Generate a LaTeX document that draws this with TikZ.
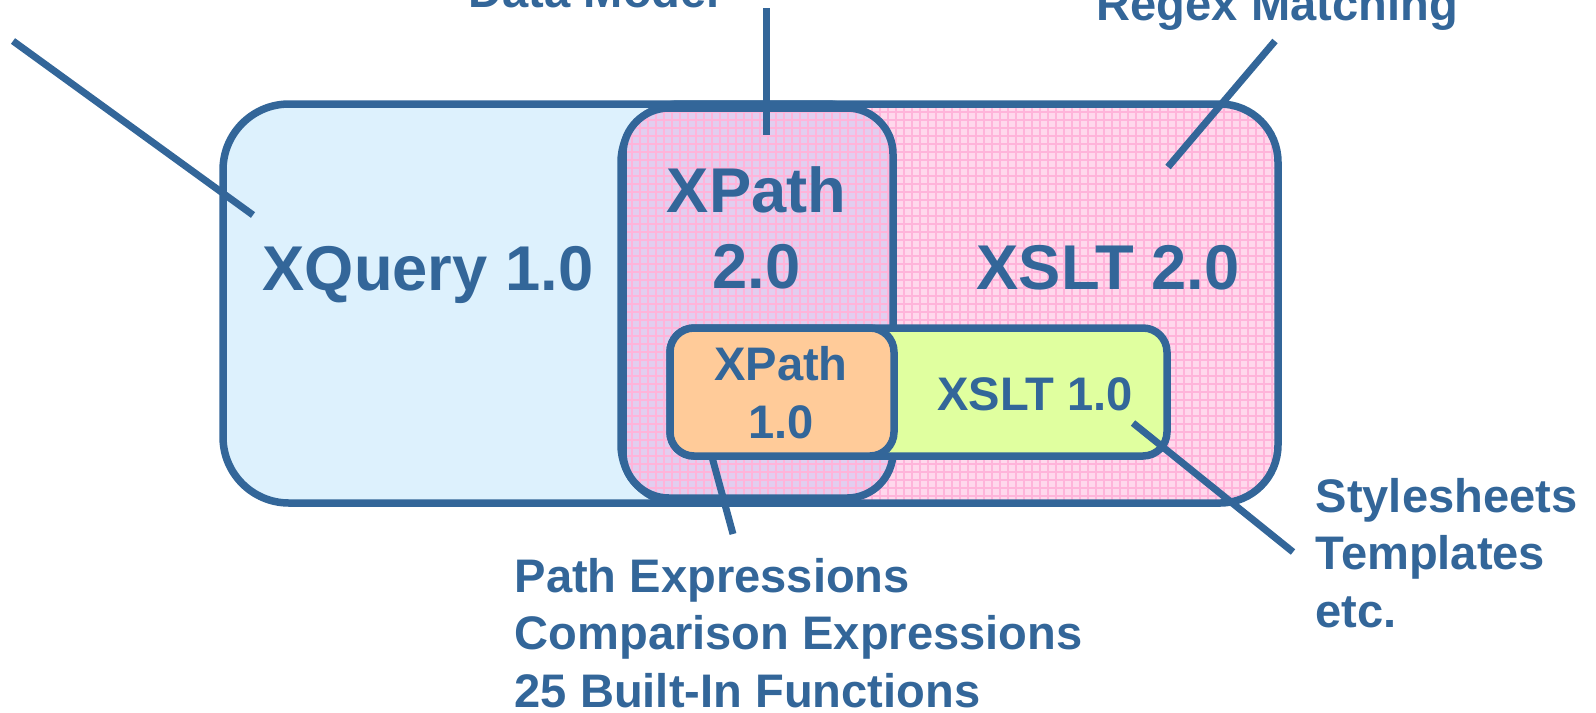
\documentclass[tikz,border=0pt]{standalone}
\usepackage{fontspec}
\setmainfont{Liberation Sans}
\usetikzlibrary{patterns.meta}
\definecolor{edge}{HTML}{336699}
\definecolor{qfill}{HTML}{DDF1FD}
\definecolor{sfill}{HTML}{FFD8EC}
\definecolor{sgrid}{HTML}{FFB4DA}
\definecolor{pfill}{HTML}{E2CEEF}
\definecolor{ofill}{HTML}{FFCB99}
\definecolor{gfill}{HTML}{E0FF9F}
\newcommand{\Panel}[4]{
  \draw[rounded corners=#3,line width=0.75mm,draw=edge,#4] #1 rectangle #2;
}
\tikzset{
  big/.style={font=\bfseries\fontsize{18}{21.6}\selectfont,text=edge,inner sep=0pt},
  note/.style={font=\bfseries\fontsize{13.4}{16.3}\selectfont,text=edge,inner sep=0pt},
  grid fill/.style={preaction={fill=#1},pattern={Hatch[distance=0.8mm,angle=0,line width=0.15mm]},pattern color=sgrid},
  lead/.style={draw=edge,line width=0.7mm}
}

\begin{document}
\begin{tikzpicture}[x=1mm,y=-1mm]
  \useasboundingbox (0,0) rectangle (159.6,71.2);
  \Panel{(22.3,10.4)}{(89.3,50.3)}{6.6mm}{fill=qfill}
  \Panel{(62.1,10.4)}{(127.8,50.3)}{5.8mm}{grid fill=sfill}
  \Panel{(62.3,10.8)}{(89.3,49.8)}{4.6mm}{grid fill=pfill}
  \Panel{(67.0,32.8)}{(116.7,45.6)}{2.4mm}{fill=gfill}
  \Panel{(67.0,32.8)}{(89.4,45.6)}{2.4mm}{fill=ofill}

  \node[big,anchor=base west] (xq) at (26.2,29.0) {XQuery 1.0};
  \node[big,anchor=base west] (xs2) at (97.6,28.9) {XSLT 2.0};
  \node[big,align=center,anchor=base] (xp2) at (75.65,28.8) {XPath\\2.0};
  \node[note,align=center,anchor=base] (xp1) at (78.1,43.8) {XPath\\1.0};
  \node[note,anchor=base] (xs1) at (103.5,41.0) {XSLT 1.0};

  \node[note,anchor=base west] (dm) at (46.8,0.75) {Data Model};
  \node[note,anchor=base west] (rx) at (109.6,2.0) {Regex Matching};
  \node[note,align=left,anchor=base west] (ss) at (131.5,62.7) {Stylesheets\\Templates\\etc.};
  \node[note,align=left,anchor=base west] (pe) at (51.4,70.7)
    {Path Expressions\\Comparison Expressions\\25 Built-In Functions};

  \coordinate (q1) at (1.3,4.1);    \coordinate (q2) at (25.3,21.5);
  \coordinate (d1) at (76.6,0.8);   \coordinate (d2) at (76.6,13.5);
  \coordinate (r1) at (127.5,4.1);  \coordinate (r2) at (116.8,16.7);
  \coordinate (s1) at (113.3,42.3); \coordinate (s2) at (129.3,55.2);
  \coordinate (p1) at (71.2,45.7);  \coordinate (p2) at (73.3,53.4);
  \draw[lead] (q1) -- (q2);
  \draw[lead] (d1) -- (d2);
  \draw[lead] (r1) -- (r2);
  \draw[lead] (s1) -- (s2);
  \draw[lead] (p1) -- (p2);
\end{tikzpicture}
\end{document}
